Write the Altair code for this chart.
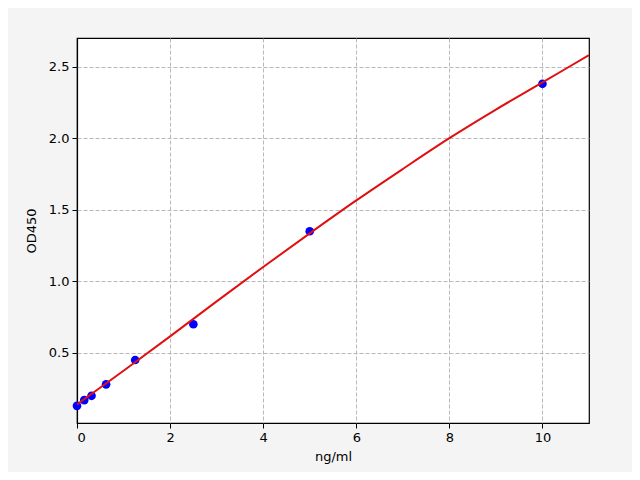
import altair as alt
import pandas as pd

# Standard points
conc = [0.0, 0.156, 0.3125, 0.625, 1.25, 2.5, 5.0, 10.0]
od = [0.13, 0.17, 0.20, 0.28, 0.45, 0.70, 1.35, 2.38]

# Fitted curve
curve_x = [0, 1, 2, 3, 4, 5, 6, 7, 8, 9, 10, 11]
curve_y = [0.14, 0.375, 0.615, 0.86, 1.10, 1.335, 1.565, 1.785, 2.00, 2.20, 2.39, 2.58]

pts = pd.DataFrame({"x": conc, "y": od})
cur = pd.DataFrame({"x": curve_x, "y": curve_y})

xscale = alt.Scale(domain=[0, 11], nice=False, zero=False)
yscale = alt.Scale(domain=[0.01, 2.70], nice=False, zero=False)

grid_color = {"condition": {"test": "datum.value === 0", "value": "black"}, "value": "#b0b0b0"}
grid_dash = {"condition": {"test": "datum.value === 0", "value": [1, 0]}, "value": [4, 2]}
grid_width = {"condition": {"test": "datum.value === 0", "value": 1.2}, "value": 0.9}

xaxis = alt.Axis(title="ng/ml", values=[0, 2, 4, 6, 8, 10], format="d",
                 grid=True, gridColor=grid_color, gridDash=grid_dash, gridWidth=grid_width,
                 domain=False, tickColor="black", tickSize=5, tickWidth=1,
                 labelFont="DejaVu Sans", labelFontSize=13, labelColor="black",
                 labelPadding=3,
                 titleFont="DejaVu Sans", titleFontSize=13, titleFontWeight="normal",
                 titleColor="black", titlePadding=6)
yaxis = alt.Axis(title="OD450", values=[0.5, 1.0, 1.5, 2.0, 2.5], format=".1f",
                 grid=True, gridColor="#b0b0b0", gridDash=[4, 2], gridWidth=0.9,
                 domain=False, tickColor="black", tickSize=5, tickWidth=1,
                 labelFont="DejaVu Sans", labelFontSize=13, labelColor="black",
                 labelPadding=3,
                 titleFont="DejaVu Sans", titleFontSize=13, titleFontWeight="normal",
                 titleColor="black", titlePadding=10)

points = alt.Chart(pts).mark_circle(size=75, color="#0000ff", opacity=1).encode(
    x=alt.X("x:Q", scale=xscale, axis=xaxis),
    y=alt.Y("y:Q", scale=yscale, axis=yaxis),
)
line = alt.Chart(cur).mark_line(color="#e01010", strokeWidth=2, interpolate="monotone", clip=True).encode(
    x=alt.X("x:Q", scale=xscale),
    y=alt.Y("y:Q", scale=yscale),
)

chart = alt.layer(points, line).properties(
    width=512, height=385,
    padding={"left": 69, "top": 30, "right": 43, "bottom": 49},
    autosize=alt.AutoSizeParams(type="none"),
    background="#f4f4f4",
).configure_view(fill="white", stroke="black", strokeWidth=1.2)

chart.save("out.html", embed_options={"renderer": "svg", "actions": False})
